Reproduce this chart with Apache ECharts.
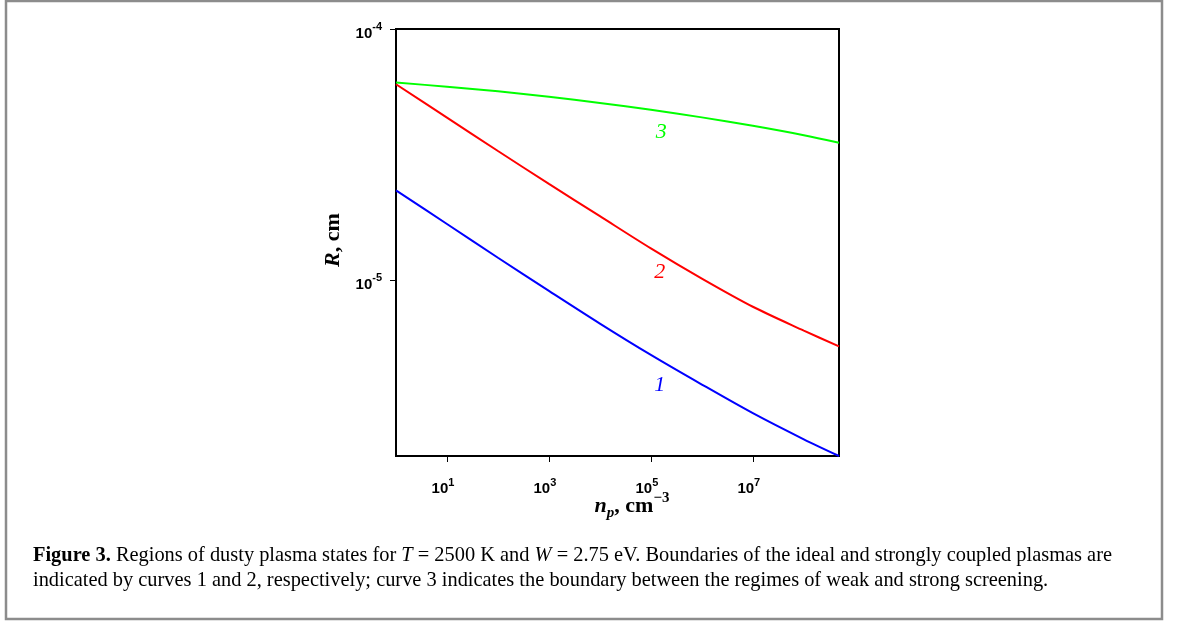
<!DOCTYPE html>
<html>
<head>
<meta charset="utf-8">
<script src="https://cdn.jsdelivr.net/npm/echarts@6/dist/echarts.min.js"></script>
<style>
html,body{margin:0;padding:0;background:#fff;}
#c{width:1179px;height:626px;}
</style>
</head>
<body>
<div id="c"></div>
<script>
// ---- data ----
const nValues = [1, 10, 100, 1e3, 1e4, 1e5, 1e6, 1e7, 1e8, 4.9e8];           // n_p, cm^-3
const curve1 = [2.28e-5, 1.675e-5, 1.23e-5, 9.08e-6, 6.73e-6, 5.05e-6, 3.85e-6, 2.96e-6, 2.33e-6, 2.0e-6];
const curve2 = [6.03e-5, 4.44e-5, 3.27e-5, 2.42e-5, 1.80e-5, 1.34e-5, 1.016e-5, 7.85e-6, 6.31e-6, 5.46e-6];
const curve3 = [6.13e-5, 5.89e-5, 5.65e-5, 5.37e-5, 5.08e-5, 4.77e-5, 4.45e-5, 4.12e-5, 3.78e-5, 3.53e-5];
const xTicks = [10, 1e3, 1e5, 1e7];
const yTicks = [1e-5, 1e-4];
const curveNames = ['1', '2', '3'];
const curveColors = ['#0000ff', '#ff0000', '#00ff00'];
const labelPos = [[1.5e5, 3.82e-6], [1.5e5, 1.074e-5], [1.6e5, 3.88e-5]];
const captionLine1 = '{b|Figure 3.} Regions of dusty plasma states for {i|T} = 2500 K and {i|W} = 2.75 eV. Boundaries of the ideal and strongly coupled plasmas are';
const captionLine2 = 'indicated by curves 1 and 2, respectively; curve 3 indicates the boundary between the regimes of weak and strong screening.';

const chart = echarts.init(document.getElementById('c'), null, {renderer: 'canvas'});

const tickRich = {
  b: {fontFamily: 'Liberation Sans', fontWeight: 'bold', fontSize: 15, color: '#000', lineHeight: 24, verticalAlign: 'middle'},
  s: {fontFamily: 'Liberation Sans', fontWeight: 'bold', fontSize: 11, color: '#000', lineHeight: 8, verticalAlign: 'top'}
};
const expFmt = v => '{b|10}{s|' + Math.round(Math.log10(v)) + '}';

function pairs(ys) { return nValues.map((x, i) => [x, ys[i]]); }

const serif = 'Liberation Serif';
const capSize = 20.4;

chart.setOption({
  animation: false,
  grid: {left: 396, right: 340, top: 29, bottom: 170, show: true, borderColor: '#000', borderWidth: 2, backgroundColor: 'transparent'},
  xAxis: {
    type: 'log', logBase: 10, min: 1, max: 4.9e8,
    axisLine: {lineStyle: {color: '#000', width: 2}},
    axisTick: {show: true, inside: false, length: 6, customValues: xTicks, lineStyle: {color: '#000', width: 1}},
    axisLabel: {customValues: xTicks, formatter: expFmt, rich: tickRich, margin: 21, padding: [0, 8, 0, 0]},
    splitLine: {show: false}, minorTick: {show: false}
  },
  yAxis: {
    type: 'log', logBase: 10, min: 2e-6, max: 1e-4,
    axisLine: {lineStyle: {color: '#000', width: 2}},
    axisTick: {show: true, inside: false, length: 6, customValues: yTicks, lineStyle: {color: '#000', width: 1}},
    axisLabel: {customValues: yTicks, formatter: expFmt, rich: tickRich, margin: 14, padding: [9, 0, 0, 0]},
    splitLine: {show: false}, minorTick: {show: false}
  },
  series: [curve1, curve2, curve3].map((c, i) => ({
    type: 'line', name: curveNames[i], data: pairs(c), smooth: 0.3, symbol: 'none',
    lineStyle: {color: curveColors[i], width: 2}, z: 3
  }))
});

const labelGraphics = labelPos.map((p, i) => {
  const px = chart.convertToPixel({gridIndex: 0}, p);
  return {
    type: 'text', x: px[0], y: px[1],
    style: {text: curveNames[i], fill: curveColors[i], font: 'italic 22px "Liberation Serif"', align: 'center', verticalAlign: 'middle'}
  };
});

chart.setOption({
  graphic: [
    {type: 'rect', shape: {x: 6, y: 1, width: 1156, height: 618}, style: {fill: 'none', stroke: '#8c8c8c', lineWidth: 2.5}},
    ...labelGraphics,
    {type: 'text', x: 632, y: 506,
     style: {text: '{i|n}{sub|p}{n|, cm}{sup|\u22123}', align: 'center', verticalAlign: 'middle',
       rich: {
         i: {fontFamily: serif, fontStyle: 'italic', fontWeight: 'bold', fontSize: 22, lineHeight: 30, verticalAlign: 'middle', fill: '#000'},
         n: {fontFamily: serif, fontWeight: 'bold', fontSize: 22, lineHeight: 30, verticalAlign: 'middle', fill: '#000'},
         sub: {fontFamily: serif, fontStyle: 'italic', fontWeight: 'bold', fontSize: 15, lineHeight: 15, verticalAlign: 'bottom', fill: '#000'},
         sup: {fontFamily: serif, fontWeight: 'bold', fontSize: 15, lineHeight: 15, verticalAlign: 'top', fill: '#000'}
       }}},
    {type: 'text', x: 333, y: 240, rotation: Math.PI / 2,
     style: {text: '{i|R}{n|, cm}', align: 'center', verticalAlign: 'middle',
       rich: {
         i: {fontFamily: serif, fontStyle: 'italic', fontWeight: 'bold', fontSize: 22, fill: '#000'},
         n: {fontFamily: serif, fontWeight: 'bold', fontSize: 22, fill: '#000'}
       }}},
    {type: 'text', x: 33, y: 556,
     style: {text: captionLine1, align: 'left', verticalAlign: 'middle',
       rich: {
         b: {fontFamily: serif, fontWeight: 'bold', fontSize: capSize, fill: '#000'},
         i: {fontFamily: serif, fontStyle: 'italic', fontSize: capSize, fill: '#000'}
       },
       font: capSize + 'px "Liberation Serif"', fill: '#000'}},
    {type: 'text', x: 33, y: 581,
     style: {text: captionLine2, align: 'left', verticalAlign: 'middle', font: capSize + 'px "Liberation Serif"', fill: '#000'}}
  ]
});
</script>
</body>
</html>
